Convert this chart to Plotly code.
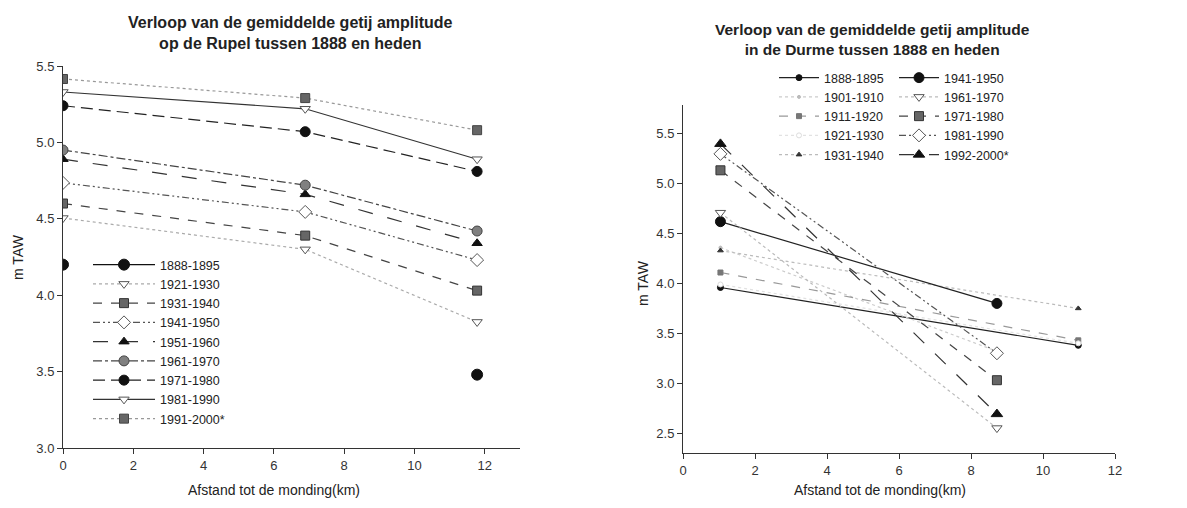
import plotly.graph_objects as go

# ---- data: Rupel (left panel) ----
rupel_km = [0, 6.89, 11.78]
rupel_periods = ['1888-1895', '1921-1930', '1931-1940', '1941-1950', '1951-1960',
                 '1961-1970', '1971-1980', '1981-1990', '1991-2000*']
rupel_1888 = [4.20, None, 3.48]
rupel_1921 = [4.505, 4.30, 3.825]
rupel_1931 = [4.60, 4.39, 4.03]
rupel_1941 = [4.735, 4.545, 4.23]
rupel_1951 = [4.89, 4.66, 4.34]
rupel_1961 = [4.95, 4.72, 4.42]
rupel_1971 = [5.24, 5.07, 4.81]
rupel_1981 = [5.33, 5.22, 4.89]
rupel_1991 = [5.415, 5.29, 5.08]

# ---- data: Durme (right panel) ----
durme_km = [1.04, 8.72, 10.98]
durme_periods = ['1888-1895', '1901-1910', '1911-1920', '1921-1930', '1931-1940',
                 '1941-1950', '1961-1970', '1971-1980', '1981-1990', '1992-2000*']
durme_1888 = [3.96, None, 3.38]
durme_1901 = [4.36, 3.32, None]
durme_1911 = [4.11, None, 3.43]
durme_1921 = [3.99, None, 3.40]
durme_1931 = [4.33, None, 3.75]
durme_1941 = [4.62, 3.80, None]
durme_1961 = [4.71, 2.55, None]
durme_1971 = [5.135, 3.03, None]
durme_1981 = [5.30, 3.30, None]
durme_1992 = [5.40, 2.69, None]

FONT = "Liberation Sans, Arial, sans-serif"
DDOT = "7px,3px,2px,3px,2px,3px"
W, H = 1187, 508
OFF = 8  # page body margin


def px(x):
    return (x - OFF) / W


def py(y):
    return 1 - (y - OFF) / H


fig = go.Figure()


def add(x, y, name, xa, ya, leg, gaps, lcolor, dash, symbol, msize, mfill, mline, lw=1.2):
    fig.add_trace(go.Scatter(
        x=x, y=y, name=name, mode='lines+markers', connectgaps=gaps,
        xaxis=xa, yaxis=ya, legend=leg,
        line=dict(color=lcolor, width=lw, dash=dash),
        marker=dict(symbol=symbol, size=msize, color=mfill,
                    line=dict(color=mline, width=1)),
    ))


# left panel
left_series = [
    (rupel_1888, '#111', 'solid', 'circle', 11, '#111', '#111'),
    (rupel_1921, '#aaa', 'dot', 'triangle-down', 9, 'white', '#555'),
    (rupel_1931, '#444', 'dash', 'square', 9, '#666', '#333'),
    (rupel_1941, '#555', DDOT, 'diamond', 10, 'white', '#555'),
    (rupel_1951, '#333', 'longdash', 'triangle-up', 9, '#111', '#111'),
    (rupel_1961, '#444', 'dashdot', 'circle', 10, '#808080', '#444'),
    (rupel_1971, '#222', '12px,6px', 'circle', 10, '#111', '#111'),
    (rupel_1981, '#333', 'solid', 'triangle-down', 9, 'white', '#555'),
    (rupel_1991, '#999', 'dot', 'square', 9, '#666', '#444'),
]
for name, s in zip(rupel_periods, left_series):
    add(rupel_km, s[0], name, 'x', 'y', 'legend', False, *s[1:])

# right panel, legend split over two columns
right_series = [
    (durme_1888, '#222', 'solid', 'circle', 6, '#111', '#111'),
    (durme_1901, '#ccc', 'dot', 'circle', 3, '#bbb', '#bbb'),
    (durme_1911, '#999', 'dash', 'square', 5, '#777', '#777'),
    (durme_1921, '#e2e2e2', 'dot', 'circle', 5, 'white', '#ddd'),
    (durme_1931, '#bbb', 'dot', 'triangle-up', 5, '#333', '#333'),
    (durme_1941, '#222', 'solid', 'circle', 10, '#111', '#111'),
    (durme_1961, '#bbb', 'dot', 'triangle-down', 9, 'white', '#555'),
    (durme_1971, '#444', 'dash', 'square', 9, '#666', '#333'),
    (durme_1981, '#555', DDOT, 'diamond', 10, 'white', '#555'),
    (durme_1992, '#333', 'longdash', 'triangle-up', 10, '#111', '#111'),
]
for i, (name, s) in enumerate(zip(durme_periods, right_series)):
    add(durme_km, s[0], name, 'x2', 'y2', 'legend2' if i < 5 else 'legend3', True, *s[1:])

axis_common = dict(showline=True, linecolor='#333', linewidth=1, ticks='outside',
                   ticklen=5, tickcolor='#333', showgrid=False, zeroline=False,
                   tickfont=dict(family=FONT, size=13, color='#333'), automargin=False)
leg_common = dict(xanchor='left', yanchor='top', bgcolor='rgba(0,0,0,0)',
                  font=dict(family=FONT, size=12.5, color='#222'), tracegroupgap=0)

fig.update_layout(
    width=W, height=H, margin=dict(l=0, r=0, t=0, b=0, autoexpand=False),
    plot_bgcolor='white', paper_bgcolor='white',
    font=dict(family=FONT, size=12, color='#222'),
    xaxis=dict(domain=[px(63), px(520)], range=[0, 13], tickvals=[0, 2, 4, 6, 8, 10, 12],
               anchor='y', **axis_common),
    yaxis=dict(domain=[py(448), py(66)], range=[3.0, 5.5], dtick=0.5,
               tickformat='.1f', anchor='x', **axis_common),
    xaxis2=dict(domain=[px(683), px(1115)], range=[0, 12], dtick=2,
                anchor='y2', **axis_common),
    yaxis2=dict(domain=[py(453), py(105)], range=[2.3, 5.79],
                tickvals=[2.5, 3.0, 3.5, 4.0, 4.5, 5.0, 5.5], tickformat='.1f',
                anchor='x2', **axis_common),
    legend=dict(x=px(88), y=py(250), itemwidth=62, **leg_common),
    legend2=dict(x=px(774), y=py(63), itemwidth=40, **leg_common),
    legend3=dict(x=px(894), y=py(63), itemwidth=40, **leg_common),
    showlegend=True,
)

ann = [
    dict(x=290, y=33, text='<b>Verloop van de gemiddelde getij amplitude<br>op de Rupel tussen 1888 en heden</b>',
         size=16),
    dict(x=872, y=39, text='<b>Verloop van de gemiddelde getij amplitude<br>in de Durme tussen 1888 en heden</b>',
         size=15.5),
    dict(x=274, y=490, text='Afstand tot de monding(km)', size=14),
    dict(x=880, y=490, text='Afstand tot de monding(km)', size=14),
    dict(x=18, y=257, text='m TAW', angle=-90, size=14),
    dict(x=643, y=283, text='m TAW', angle=-90, size=14),
]
for a in ann:
    fig.add_annotation(xref='paper', yref='paper', showarrow=False,
                       xanchor='center', yanchor='middle',
                       x=px(a['x']), y=py(a['y']), text=a['text'],
                       textangle=a.get('angle', 0),
                       font=dict(family=FONT, color='#222', size=a['size']))

fig.write_html("out.html")
